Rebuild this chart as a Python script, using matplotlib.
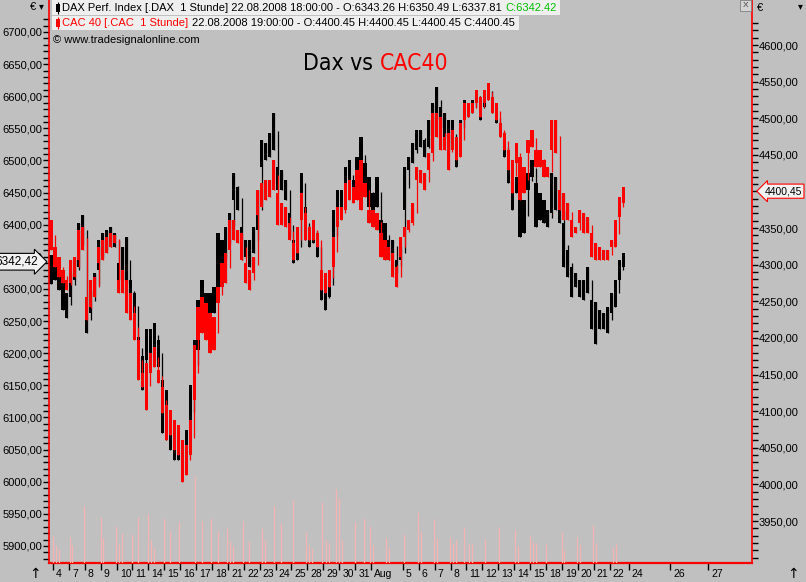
import numpy as np
import matplotlib.pyplot as plt
from matplotlib.patches import Rectangle
from matplotlib.ticker import FixedLocator, FuncFormatter
from matplotlib.transforms import blended_transform_factory

# Stundenbereiche (Hoch / Tief), 4 Bloecke je Handelstag, erster Wert = Rest vom 3. Juli
dax_hi = [6353,
          6341, 6330, 6314, 6294,  6325, 6345, 6403, 6415,  6272, 6299, 6325, 6377,
          6387, 6392, 6397, 6387,  6341, 6366, 6381, 6314,  6294, 6226, 6195, 6237,
          6237, 6247, 6221, 6159,  6143, 6097, 6089, 6081,  6065, 6081, 6151, 6221,
          6283, 6314, 6294, 6294,  6303, 6387, 6377, 6397,  6419, 6481, 6459, 6397,
          6377, 6377, 6397, 6454,  6532, 6527, 6543, 6574,  6490, 6485, 6470, 6419,
          6377, 6387, 6481, 6428,  6397, 6408, 6381, 6330,  6303, 6325, 6423, 6454,
          6454, 6490, 6501, 6470,  6506, 6537, 6496, 6475,  6450, 6475, 6408, 6403,
          6377, 6377, 6345, 6366,  6490, 6506, 6527, 6548,  6548, 6532, 6563, 6590,
          6614, 6583, 6574, 6563,  6563, 6527, 6563, 6594,  6590, 6594, 6610, 6599,
          6610, 6621, 6599, 6574,  6552, 6537, 6501, 6475,  6475, 6459, 6439, 6481,
          6501, 6465, 6450, 6439,  6423, 6481, 6475, 6439,  6403, 6361, 6334, 6325,
          6314, 6314, 6334, 6283,  6279, 6268, 6263, 6272,  6294, 6314, 6345, 6356]
dax_lo = [6307,
          6314, 6299, 6268, 6255,  6288, 6314, 6334, 6369,  6232, 6263, 6288, 6330,
          6350, 6361, 6366, 6366,  6314, 6314, 6310, 6279,  6252, 6190, 6143, 6190,
          6201, 6210, 6179, 6076,  6065, 6050, 6034, 6034,  6022, 6026, 6065, 6143,
          6205, 6268, 6263, 6232,  6263, 6303, 6334, 6345,  6377, 6439, 6423, 6345,
          6350, 6334, 6356, 6392,  6490, 6501, 6506, 6517,  6454, 6454, 6439, 6381,
          6341, 6345, 6450, 6377,  6366, 6372, 6350, 6283,  6268, 6288, 6341, 6408,
          6428, 6454, 6454, 6439,  6470, 6481, 6454, 6428,  6419, 6428, 6366, 6366,
          6345, 6356, 6325, 6345,  6423, 6485, 6496, 6517,  6521, 6506, 6521, 6537,
          6574, 6552, 6537, 6517,  6521, 6490, 6537, 6563,  6568, 6574, 6590, 6563,
          6583, 6594, 6574, 6559,  6537, 6506, 6465, 6423,  6450, 6381, 6387, 6454,
          6475, 6397, 6408, 6403,  6397, 6419, 6423, 6403,  6334, 6319, 6288, 6303,
          6288, 6283, 6294, 6237,  6215, 6237, 6237, 6232,  6263, 6272, 6314, 6334]

cac_hi = [4361,
          4324, 4311, 4293, 4279,  4306, 4311, 4347, 4352,  4256, 4279, 4283, 4324,
          4334, 4338, 4343, 4340,  4279, 4293, 4279, 4261,  4234, 4197, 4152, 4166,
          4179, 4188, 4156, 4133,  4108, 4102, 4088, 4081,  4061, 4054, 4088, 4190,
          4242, 4256, 4248, 4234,  4229, 4270, 4302, 4316,  4361, 4361, 4347, 4343,
          4302, 4293, 4311, 4402,  4412, 4416, 4416, 4443,  4398, 4384, 4379, 4357,
          4330, 4352, 4398, 4371,  4352, 4361, 4343, 4293,  4289, 4293, 4338, 4379,
          4379, 4412, 4416, 4406,  4429, 4443, 4412, 4375,  4375, 4371, 4343, 4334,
          4324, 4316, 4297, 4338,  4352, 4361, 4384, 4433,  4429, 4425, 4453, 4507,
          4507, 4502, 4474, 4480,  4484, 4474, 4494, 4521,  4521, 4521, 4539, 4529,
          4539, 4548, 4529, 4521,  4494, 4480, 4457, 4443,  4466, 4447, 4433, 4470,
          4484, 4457, 4457, 4443,  4433, 4498, 4498, 4402,  4398, 4384, 4361, 4352,
          4375, 4371, 4365, 4343,  4330, 4324, 4320, 4320,  4334, 4361, 4392, 4406]
cac_lo = [4320,
          4297, 4283, 4275, 4266,  4275, 4283, 4306, 4320,  4225, 4242, 4256, 4302,
          4306, 4316, 4324, 4330,  4261, 4261, 4234, 4225,  4197, 4143, 4133, 4102,
          4152, 4160, 4139, 4098,  4061, 4068, 4047, 4040,  4003, 4013, 4040, 4115,
          4197, 4207, 4197, 4179,  4184, 4248, 4270, 4275,  4320, 4334, 4330, 4306,
          4275, 4266, 4289, 4368,  4379, 4388, 4392, 4402,  4354, 4354, 4352, 4334,
          4306, 4316, 4361, 4334,  4334, 4334, 4324, 4266,  4261, 4270, 4297, 4352,
          4361, 4375, 4388, 4384,  4388, 4375, 4392, 4357,  4352, 4347, 4311, 4306,
          4306, 4283, 4270, 4311,  4338, 4347, 4357, 4416,  4412, 4402, 4429, 4453,
          4474, 4457, 4457, 4429,  4457, 4443, 4447, 4498,  4502, 4507, 4521, 4502,
          4521, 4525, 4507, 4498,  4474, 4457, 4429, 4398,  4439, 4388, 4398, 4453,
          4461, 4433, 4433, 4420,  4420, 4457, 4453, 4375,  4361, 4361, 4338, 4343,
          4357, 4343, 4343, 4311,  4306, 4306, 4306, 4306,  4324, 4324, 4365, 4384]

dax_last = 6342.42
cac_last = 4400.45

# Volumen (Zeit in Handelstagen ab 4. Juli, Wert in Mio.)
vol_t = [0.03, 0.19, 0.38, 1.04, 1.20, 1.97, 2.99, 3.15, 3.97, 4.16, 4.36, 4.98,
         5.37, 5.99, 6.19, 6.38, 7.01, 7.39, 7.94, 8.93, 9.39, 9.94, 10.35, 10.95,
         11.14, 11.34, 11.96, 12.35, 13.17, 13.36, 13.91, 14.35, 15.12, 15.94, 16.13,
         16.30, 16.94, 17.14, 17.33, 17.77, 17.96, 18.15, 18.97, 19.55, 19.93, 20.14,
         20.92, 21.11, 22.09, 22.94, 23.13, 23.95, 24.12, 24.94, 25.13, 25.32, 25.87,
         26.16, 26.33, 27.20, 28.02, 29.03, 29.22, 29.97, 30.21, 30.40, 30.98, 31.99,
         32.16, 32.97, 33.16, 33.99, 34.18, 35.19, 35.38]
vol_v = [2.7, 1.8, 1.4, 2.6, 1.8, 5.7, 4.6, 2.5, 3.7, 1.9, 3.0, 2.9,
         4.6, 4.9, 2.3, 1.5, 4.5, 3.2, 4.1, 8.7, 4.2, 4.5, 3.2, 3.5,
         2.2, 1.7, 4.2, 2.2, 3.5, 2.3, 5.7, 4.0, 6.3, 3.1, 1.8,
         1.4, 6.1, 2.3, 2.0, 7.4, 6.5, 2.3, 4.1, 4.5, 3.7, 1.8,
         2.5, 1.6, 2.9, 5.1, 3.2, 4.4, 2.5, 2.6, 1.9, 2.3, 3.6,
         1.9, 1.9, 2.4, 3.6, 3.3, 1.7, 2.7, 2.1, 2.0, 1.9, 3.1,
         1.3, 2.6, 1.8, 3.8, 2.0, 1.6, 1.9]

day_labels = ['4', '7', '8', '9', '10', '11', '14', '15', '16', '17', '18', '21', '22',
              '23', '24', '25', '28', '29', '30', '31', 'Aug', '', '5', '6', '7', '8',
              '11', '12', '13', '14', '15', '18', '19', '20', '21', '22']
future_pos = [36.2, 38.8, 41.2]
future_labels = ['24', '26', '27']

GREY = '#c0c0c0'
FONT = ['Liberation Sans', 'DejaVu Sans']
W, H = 806, 582

t = np.arange(len(dax_hi)) * 0.25 - 0.125
dax_hi, dax_lo = np.array(dax_hi), np.array(dax_lo)
cac_hi, cac_lo = np.array(cac_hi), np.array(cac_lo)

fig = plt.figure(figsize=(W / 100, H / 100), dpi=100, facecolor=GREY)
ax = fig.add_axes([49 / W, 1 - 563 / H, (752 - 49) / W, 563 / H])
ax.set_facecolor(GREY)
ax.set_xlim(-0.25, 43.96)
ax.set_ylim(5873.5, 6749.8)

axv = ax.twinx()
axv.set_ylim(0, 56.3)
axv.set_yticks([])
axc = ax.twinx()
axc.set_ylim(3892.7, 4661.5)

for a in (ax, axv, axc):
    for s in a.spines.values():
        s.set_visible(False)
ax.spines['left'].set_visible(True)
ax.spines['bottom'].set_visible(True)
axc.spines['right'].set_visible(True)
ax.spines['left'].set_color('red')
ax.spines['bottom'].set_color('red')
axc.spines['right'].set_color('red')
ax.spines['left'].set_linewidth(1.2)
ax.spines['bottom'].set_linewidth(1.6)
axc.spines['right'].set_linewidth(1.2)

# Volumen
axv.vlines(vol_t, 0, vol_v, color='#f4b4b4', lw=0.9)


def draw_bars(a, hi, lo, col):
    # duenne Verbindung zum vorigen Block, dann der Block selbst
    mid = (hi + lo) / 2
    prev = np.r_[mid[0], mid[:-1]]
    a.vlines(t, np.minimum(lo, prev), np.maximum(hi, prev), color=col, lw=0.9)
    a.bar(t, hi - lo, bottom=lo, width=0.2, color=col, linewidth=0)


draw_bars(ax, dax_hi, dax_lo, 'black')
draw_bars(axc, cac_hi, cac_lo, 'red')

fmt = FuncFormatter(lambda v, p: f"{v:.2f}".replace('.', ','))
ax.yaxis.set_major_locator(FixedLocator(np.arange(5900, 6701, 50)))
ax.yaxis.set_minor_locator(FixedLocator(np.arange(5880, 6721, 10)))
ax.yaxis.set_major_formatter(fmt)
axc.yaxis.set_major_locator(FixedLocator(np.arange(3950, 4601, 50)))
axc.yaxis.set_minor_locator(FixedLocator(np.arange(3900, 4631, 10)))
axc.yaxis.set_major_formatter(fmt)
for a in (ax, axc):
    a.tick_params(axis='y', which='both', direction='out', length=4, width=1,
                  colors='black', labelsize=8, pad=1)
    for lab in a.get_yticklabels():
        lab.set_family(FONT)

# x-Ticks: Tagesanfang
tick_pos = [i for i, l in enumerate(day_labels) if l] + future_pos
tick_lab = [l for l in day_labels if l] + future_labels
ax.set_xticks(tick_pos)
ax.set_xticklabels([])
ax.tick_params(axis='x', direction='out', length=5, width=1, colors='black')
tr = blended_transform_factory(ax.transData, ax.transAxes)
for p, l in zip(tick_pos, tick_lab):
    ax.text(p + 0.2, -11 / 563, l, transform=tr, ha='left', va='center',
            fontsize=7.5, family=FONT)

# letzte Kurse
ax.annotate(f"{dax_last:.2f}".replace('.', ','), xy=(0, dax_last),
            xycoords=('axes fraction', 'data'), xytext=(-8, 0), textcoords='offset points',
            ha='right', va='center', fontsize=8.5, family=FONT, annotation_clip=False,
            bbox=dict(boxstyle='rarrow,pad=0.2', fc='#f2f2f2', ec='black', lw=0.8))
axc.annotate(f"{cac_last:.2f}".replace('.', ','), xy=(1, cac_last),
             xycoords=('axes fraction', 'data'), xytext=(9, 0), textcoords='offset points',
             ha='left', va='center', fontsize=7.5, family=FONT, annotation_clip=False,
             bbox=dict(boxstyle='larrow,pad=0.2', fc='#f2f2f2', ec='red', lw=0.8))

# Overlay fuer Kopfzeilen, Titel und Deko (Pixelkoordinaten)
ov = fig.add_axes([0, 0, 1, 1])
ov.set_xlim(0, W)
ov.set_ylim(H, 0)
ov.axis('off')
ov.patch.set_visible(False)

ov.add_patch(Rectangle((52, 0), 508, 15, fc='#efefef', ec='none'))
ov.add_patch(Rectangle((52, 16), 467, 14, fc='#efefef', ec='none'))
ov.add_patch(Rectangle((56, 4), 4, 8, fc='black', ec='none'))
ov.vlines(58, 2, 14, color='black', lw=0.8)
ov.add_patch(Rectangle((56, 19), 4, 8, fc='red', ec='none'))
ov.vlines(58, 17, 29, color='red', lw=0.8)

hs = 8
t1 = ov.text(62, 8,
             'DAX Perf. Index [.DAX  1 Stunde] 22.08.2008 18:00:00 - O:6343.26 H:6350.49 L:6337.81',
             ha='left', va='center', fontsize=hs, family=FONT)
ov.annotate('C:6342.42', xy=(1, 0), xycoords=t1, xytext=(2.5, 0), textcoords='offset points',
            ha='left', va='bottom', fontsize=hs, family=FONT, color='#00c000')
t2 = ov.text(62, 23, 'CAC 40 [.CAC  1 Stunde]', ha='left', va='center',
             fontsize=hs, family=FONT, color='red')
ov.annotate('22.08.2008 19:00:00 - O:4400.45 H:4400.45 L:4400.45 C:4400.45', xy=(1, 0),
            xycoords=t2, xytext=(2.5, 0), textcoords='offset points', ha='left', va='bottom',
            fontsize=hs, family=FONT)
ov.text(53, 40, '\u00a9 www.tradesignalonline.com', ha='left', va='center',
        fontsize=hs, family=FONT)

# Titel
tt = ov.text(303, 64, 'Dax vs', ha='left', va='center', fontsize=16.5,
             family='DejaVu Sans', fontstretch='condensed', fontweight='light')
ov.annotate('CAC40', xy=(1, 0), xycoords=tt, xytext=(5, 0), textcoords='offset points',
            ha='left', va='bottom', fontsize=16.5, color='red',
            family='DejaVu Sans', fontstretch='condensed', fontweight='light')

# Ecken
ov.text(30, 7, '\u20ac', ha='left', va='center', fontsize=8, family=FONT)
ov.text(39, 6, '\u25be', ha='left', va='center', fontsize=7, family='DejaVu Sans')
ov.text(757, 8, '\u20ac', ha='left', va='center', fontsize=8, family=FONT)
ov.text(798, 6, '\u25be', ha='left', va='center', fontsize=7, family='DejaVu Sans')
ov.add_patch(Rectangle((740, 0), 11, 11, fc='#d4d4d4', ec='#808080', lw=0.6))
ov.text(745.5, 5.5, 'X', ha='center', va='center', fontsize=6, family=FONT, color='#404040')
ov.text(35, 574, '\u2191', ha='center', va='center', fontsize=10, family='DejaVu Sans')
ov.text(793, 574, '\u2191', ha='center', va='center', fontsize=10, family='DejaVu Sans')

fig.savefig('out.png', dpi=100, facecolor=GREY)
